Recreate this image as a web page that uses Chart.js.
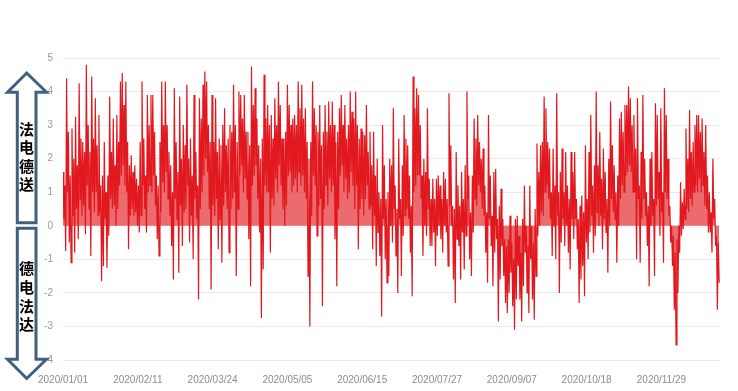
<!DOCTYPE html>
<html>
<head>
<meta charset="utf-8">
<script src="https://cdn.jsdelivr.net/npm/chart.js@4/dist/chart.umd.min.js"></script>
<style>
  html, body { margin: 0; padding: 0; background: #fff; }
  #wrap { position: relative; width: 738px; height: 391px; }
  #arrows { position: absolute; left: 0; top: 0; }
  #arrows text { font-family: "Noto Sans CJK SC", sans-serif; font-size: 15px; font-weight: bold; fill: #000; }
</style>
</head>
<body>
<div id="wrap">
  <canvas id="flowChart" width="738" height="391"></canvas>
  <svg id="arrows" width="738" height="391">
    <polygon points="26.7,73 46.5,92.3 36,92.3 36,222.7 17.3,222.7 17.3,92.3 7.5,92.3"
             fill="#fff" stroke="#41607f" stroke-width="3"/>
    <polygon points="17.3,228.3 36,228.3 36,359.3 46.5,359.3 26.7,378.5 7.5,359.3 17.3,359.3"
             fill="#fff" stroke="#41607f" stroke-width="3"/>
    <text x="26.5" y="128" text-anchor="middle" dominant-baseline="central">法</text>
    <text x="26.5" y="146" text-anchor="middle" dominant-baseline="central">电</text>
    <text x="26.5" y="165" text-anchor="middle" dominant-baseline="central">德</text>
    <text x="26.5" y="183" text-anchor="middle" dominant-baseline="central">送</text>
    <text x="26.5" y="267" text-anchor="middle" dominant-baseline="central">德</text>
    <text x="26.5" y="286" text-anchor="middle" dominant-baseline="central">电</text>
    <text x="26.5" y="305" text-anchor="middle" dominant-baseline="central">法</text>
    <text x="26.5" y="323" text-anchor="middle" dominant-baseline="central">达</text>
  </svg>
</div>
<script>
// x axis labels, one every 1000 hours
const tickLabels = ["2020/01/01", "2020/02/11", "2020/03/24", "2020/05/05", "2020/06/15",
                    "2020/07/27", "2020/09/07", "2020/10/18", "2020/11/29"];

// daily high of the flow (GW)
const dayHigh = [
  1.6, 1.2, 4.4, 2.8, 1.5, 2.9, 2.0, 3.25, 1.8, 4.25,
  2.6, 2.5, 2.2, 4.8, 3.0, 2.2, 4.45, 2.6, 3.8, 2.4,
  3.3, 1.2, 1.5, 2.5, 1.0, 1.5, 3.85, 2.2, 3.2, 1.8,
  3.3, 2.5, 4.3, 4.55, 3.6, 4.3, 2.5, 1.8, 2.1, 1.6,
  1.8, 1.4, 1.2, 2.5, 4.3, 2.6, 1.5, 3.9, 3.0, 3.9,
  3.9, 2.8, 1.5, 1.2, 2.5, 4.3, 3.0, 4.3, 3.0, 2.2,
  1.8, 1.0, 4.1, 2.5, 1.6, 3.85, 2.0, 3.0, 2.4, 4.2,
  2.0, 2.6, 1.5, 3.9, 2.2, 1.2, 3.8, 3.2, 4.2, 4.6,
  4.3, 3.0, 2.5, 3.9, 2.5, 3.8, 2.2, 2.6, 2.4, 3.0,
  3.5, 2.4, 2.6, 3.0, 2.8, 4.2, 3.0, 2.5, 4.0, 3.9,
  3.2, 3.9, 2.8, 2.8, 2.4, 4.75, 3.6, 4.1, 3.2, 2.4,
  2.0, 2.6, 4.5, 3.2, 3.6, 3.0, 3.3, 2.6, 3.8, 3.0,
  4.3, 3.6, 2.6, 2.6, 2.8, 4.2, 3.6, 3.0, 3.2, 3.3,
  3.0, 4.3, 3.5, 4.2, 3.2, 3.5, 2.5, 2.0, 2.5, 4.3,
  3.5, 3.0, 2.8, 3.6, 2.4, 2.8, 3.6, 2.8, 3.7, 3.0,
  3.7, 3.0, 2.5, 2.8, 3.5, 3.9, 3.0, 3.6, 2.6, 3.0,
  4.0, 3.4, 3.2, 4.0, 3.0, 2.6, 2.9, 2.8, 2.7, 3.6,
  2.2, 2.8, 1.8, 2.8, 1.5, 2.0, 1.0, 0.8, 3.0, 1.8,
  0.8, 1.0, 2.0, 1.8, 3.5, 1.2, 0.5, 2.6, 0.8, 1.8,
  3.3, 2.6, 2.4, 1.5, 0.6, 4.45, 3.5, 4.1, 3.9, 3.0,
  1.5, 2.0, 1.6, 3.5, 1.4, 0.8, 1.4, 0.8, 1.4, 1.5,
  1.2, 0.8, 1.6, 1.4, 0.8, 3.95, 2.4, 0.6, 0.5, 2.2,
  1.2, 0.6, 1.6, 0.8, 1.8, 4.0, 1.5, 0.4, 1.5, 3.2,
  2.6, 3.3, 2.5, 2.0, 2.3, 1.2, 0.4, 3.3, 1.5, 0.3,
  1.6, 1.7, 0.2, 0.6, 1.1, 0.2, -0.4, -0.6, -0.4, 0.3,
  -0.5, -1.0, 0.2, 0.3, -0.3, -0.8, 0.2, 1.2, 0.0, -0.6,
  1.2, 0.0, -0.5, 0.5, 2.45, 1.6, 2.4, 2.5, 3.85, 3.5,
  2.5, 2.3, 1.0, 2.3, 1.2, 3.95, 1.0, 1.6, 2.3, 1.0,
  2.2, 1.2, 0.8, 2.2, 1.6, 2.2, 0.8, 0.2, 0.6, 0.9,
  0.4, 2.4, 0.8, 2.2, 3.3, 1.2, 1.8, 4.0, 1.8, 2.8,
  1.4, 2.3, 1.6, 0.8, 2.0, 3.7, 2.4, 1.8, 1.0, 1.5,
  3.2, 3.4, 2.8, 3.6, 3.6, 4.15, 3.8, 3.0, 3.3, 2.3,
  3.8, 1.2, 2.2, 3.9, 2.0, 1.0, 0.6, 2.0, 2.2, 0.8,
  3.65, 3.3, 1.6, 3.5, 1.0, 4.1, 3.3, 2.0, 0.6, 0.0,
  -0.3, -0.8, -0.4, 0.0, 1.3, 0.7, 1.1, 2.9, 2.0, 3.45,
  2.2, 2.5, 3.0, 3.3, 3.3, 2.8, 3.2, 2.2, 3.0, 1.5,
  1.0, 0.4, 2.0, 0.8, -0.3, -0.5
];

// daily low of the flow (GW)
const dayLow = [
  0.2, -0.75, 1.0, -0.5, -1.1, 0.3, -0.8, 0.5, -0.4, 0.8,
  0.3, 0.6, -0.25, 1.2, 0.5, -0.9, 1.0, 0.4, 1.0, 0.3,
  0.4, -1.65, -1.2, 0.2, -1.25, -0.3, 0.8, 0.5, 0.6, 0.0,
  0.5, 1.2, 1.5, 1.8, 1.2, 1.0, -0.7, 0.3, 0.5, 0.3,
  0.4, 0.0, -0.2, 0.3, 1.2, 0.5, -0.2, 1.0, 1.2, 1.0,
  1.5, 0.6, -0.4, -0.9, 0.4, 1.3, 1.0, 1.6, 0.8, 0.3,
  -0.6, -1.6, 0.8, 0.2, -1.4, 0.6, -0.6, 0.4, 0.5, 1.2,
  -0.5, 0.3, -1.0, 0.8, 0.2, -2.2, 0.5, 1.0, 1.5, 2.0,
  1.6, 0.5, -1.9, 0.6, 0.3, 0.8, -0.7, 0.2, -1.1, 0.6,
  1.0, 0.5, -0.8, 0.5, 0.8, 1.0, -1.5, 0.5, 1.5, 1.8,
  1.0, 1.4, 0.8, -0.4, -1.8, 1.2, 1.5, 1.8, 0.8, -0.2,
  -2.75, -1.3, 1.2, 1.0, 1.0, -0.8, 0.8, 0.6, 1.4, 1.0,
  1.8, 1.2, 0.5, 0.0, 0.6, 1.5, 1.6, 1.0, 1.2, 1.4,
  1.0, 1.6, 1.2, 1.5, 1.0, 0.8, -1.5, -3.0, 0.3, 1.5,
  1.2, -0.3, 0.6, 0.8, -2.4, 0.5, 1.2, 0.6, 1.4, 1.0,
  1.2, -0.4, -1.8, 0.5, 1.5, 1.8, 1.0, 1.4, 0.8, 1.0,
  1.6, 1.2, 0.5, 1.2, -0.7, 0.5, 0.8, 0.3, 0.8, 1.2,
  0.5, 0.6, -0.7, 0.3, -1.2, -0.2, -0.9, -2.7, 0.2, -1.0,
  -1.7, -1.5, 0.0, -0.5, 0.5, -0.9, -2.0, 0.2, -1.5, -0.3,
  0.3, 0.5, 0.2, -0.8, -2.1, 1.0, 1.2, 1.5, 1.5, 0.8,
  -0.9, 0.0, -0.3, 0.5, -0.6, -0.6, -0.2, -1.2, -0.3, 0.0,
  -0.4, -0.8, 0.0, -0.2, -1.2, 0.6, 0.0, -1.6, -2.3, -0.4,
  -0.6, -1.6, -0.2, -1.3, -0.3, 0.8, -1.0, -1.5, -0.2, 0.8,
  0.6, 1.2, 1.0, 0.5, 0.3, -0.8, -1.7, 0.2, -0.6, -1.8,
  -0.8, -0.4, -2.85, -1.6, -0.6, -1.5, -2.3, -2.6, -2.0, -1.4,
  -2.4, -3.1, -2.2, -1.2, -2.2, -2.85, -1.8, -0.8, -2.0, -2.6,
  -1.0, -2.2, -2.8, -1.5, -0.3, 0.0, 0.4, 0.3, 1.0, 1.2,
  0.8, 0.2, -0.9, 0.0, -1.0, 0.3, -2.0, -0.5, 0.2, -0.6,
  0.0, -0.8, -1.3, 0.2, -0.4, 0.2, -0.7, -2.3, -1.6, -1.2,
  -2.1, -0.5, -1.0, -0.2, 0.3, -0.8, -0.3, 0.4, 0.0, 0.3,
  -0.7, 0.2, -0.2, -1.4, 0.0, 0.8, 0.4, 0.2, -1.1, 0.0,
  0.8, 1.2, 1.0, 1.5, 1.6, 1.8, 1.6, 1.0, 1.0, -1.0,
  0.8, -1.1, 0.2, 0.8, 0.3, -0.6, -1.8, 0.0, 0.3, -1.5,
  0.6, 0.8, -0.3, 0.4, -1.1, 1.0, 0.8, 0.3, -0.5, -1.2,
  -2.5, -3.55, -2.0, -0.8, -0.3, -0.1, 0.2, 0.5, 0.4, 0.8,
  0.6, 1.0, 1.2, 1.0, 1.4, 1.0, 1.2, 0.6, 0.5, -0.2,
  -0.2, -0.8, 0.2, -0.6, -2.5, -1.7
];

const hoursPerDay = 24;
const tickEvery = 1000;
const axisFont = { family: "'Liberation Sans', Arial, sans-serif", size: 10 };

// high then low for each day, so the line sweeps the daily range
const points = [];
dayHigh.forEach((h, i) => {
    points.push({ x: i * hoursPerDay, y: h });
    points.push({ x: i * hoursPerDay + hoursPerDay / 2, y: dayLow[i] });
});

const ctx = document.getElementById('flowChart').getContext('2d');

new Chart(ctx, {
    type: 'line',
    data: {
        datasets: [{
            data: points,
            borderColor: 'rgb(225, 25, 30)',
            backgroundColor: 'rgba(230, 70, 75, 0.8)',
            borderWidth: 1.2,
            fill: 'origin',
            pointRadius: 0,
            tension: 0
        }]
    },
    options: {
        responsive: false,
        animation: false,
        layout: { padding: { top: 58, right: 18, bottom: 0, left: 0 } },
        plugins: {
            legend: { display: false },
            tooltip: { enabled: false }
        },
        scales: {
            x: {
                type: 'linear',
                min: 0,
                max: 8783,
                grid: { display: false },
                border: { display: false },
                afterBuildTicks: s => { s.ticks = tickLabels.map((t, i) => ({ value: i * tickEvery })); },
                afterFit: s => { s.height = 31; },
                ticks: {
                    callback: (v, i) => tickLabels[i],
                    autoSkip: false,
                    maxRotation: 0,
                    padding: 6,
                    color: '#8c8c8c',
                    font: axisFont
                }
            },
            y: {
                min: -4,
                max: 5,
                afterFit: s => { s.width = 63; },
                grid: { color: '#ebebeb', drawTicks: false },
                border: { display: false },
                ticks: {
                    stepSize: 1,
                    padding: 10,
                    color: '#999',
                    font: axisFont
                }
            }
        }
    }
});
</script>
</body>
</html>
